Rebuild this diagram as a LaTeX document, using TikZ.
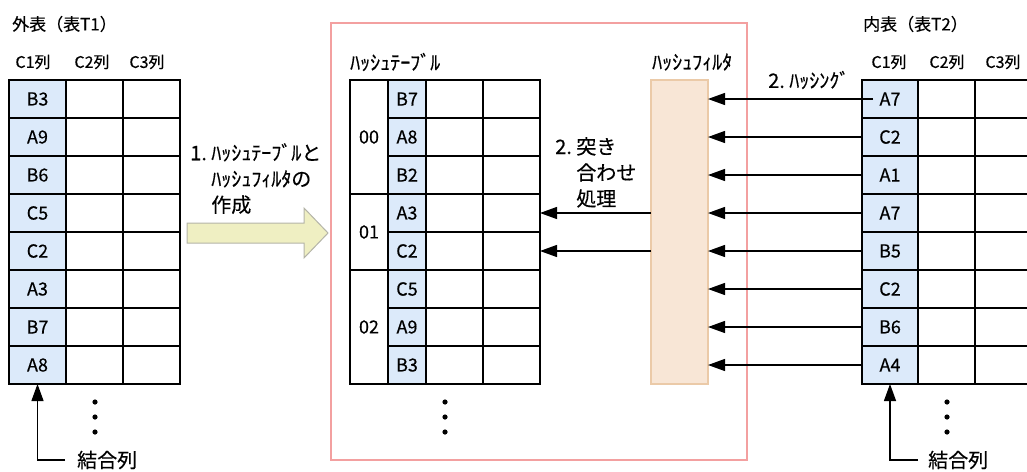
\documentclass[tikz,border=0pt]{standalone}
\usepackage{fontspec}
\setmainfont{Noto Sans CJK JP}[FakeBold=0.4]
\usetikzlibrary{arrows.meta, positioning}
\definecolor{keyblue}{HTML}{DCEAFA}
\definecolor{filterfill}{HTML}{F8E6D6}
\definecolor{filterdraw}{HTML}{EBCAA8}
\definecolor{framered}{HTML}{F3A0A0}
\definecolor{arrowfill}{HTML}{EFEFC2}
\definecolor{arrowdraw}{HTML}{B4B4A8}
\def\bigtext{\fontsize{20}{26}\selectfont}
\def\celltext{\fontsize{18}{22}\selectfont}
\def\titletext{\fontsize{17}{22}\selectfont}
\def\headtext{\fontsize{16}{18}\selectfont}
\def\blockarrow{(187,223) -- (304,223) -- (304,208) -- (328,233) -- (304,258) -- (304,243) -- (187,243) -- cycle}
\def\threedots#1{\fill (#1,402) circle (2.6) (#1,417) circle (2.6) (#1,432) circle (2.6);}
\tikzset{
    cell/.style = {draw, line width=1.5pt, outer sep=0pt, inner sep=0pt, minimum height=38pt, font=\celltext},
    keycell/.style = {cell, fill=keyblue},
    lbl/.style = {inner sep=0pt},
    flow/.style = {line width=1.3pt, -{Triangle[length=17pt, width=12pt]}},
}

\begin{document}
\begin{tikzpicture}[x=1pt, y=-1pt]
    \useasboundingbox (0,0) rectangle (1027,471);
    % Cornice della tabella hash
    \draw[framered, line width=1.3pt] (331,23) rectangle (747,460);
    % Tabella esterna (T1)
    \node[lbl, anchor=west, font=\titletext] (t1) at (12,24) {外表（表T1）};
    \node[lbl, font=\headtext] (t1c1) at (33,62) {C1列};
    \node[lbl, font=\headtext] (t1c2) at (92,62) {C2列};
    \node[lbl, font=\headtext] (t1c3) at (147,62) {C3列};
    \foreach \k/\v in {1/B3,2/A9,3/B6,4/C5,5/C2,6/A3,7/B7,8/A8}{
        \node[keycell, minimum width=57pt] (o\k) at (37.5,{61+38*\k}) {\v};
        \node[cell, minimum width=57pt, right=0pt of o\k] (o\k-b) {};
        \node[cell, minimum width=57pt, right=0pt of o\k-b] (o\k-c) {};
    }
    \threedots{95}
    \node[lbl, anchor=west, font=\bigtext] (j1) at (77,460) {結合列};
    \draw[flow] ([xshift=-12pt]j1.west) -| (o8.south);
    % Creazione
    \node[lbl, anchor=north west, align=left, font=\bigtext] (make) at (190,143)
        {1.~ﾊｯｼｭﾃｰﾌﾞﾙと\\\hphantom{1.~}ﾊｯｼｭﾌｨﾙﾀの\\\hphantom{1.~}作成};
    \filldraw[fill=arrowfill, draw=arrowdraw, line width=1pt] \blockarrow;
    % Tabella hash
    \node[lbl, anchor=west, font=\bigtext] (ht) at (350,62) {ﾊｯｼｭﾃｰﾌﾞﾙ};
    \foreach \k/\v in {1/B7,2/A8,3/B2,4/A3,5/C2,6/C5,7/A9,8/B3}{
        \node[keycell, minimum width=38pt] (h\k) at (407,{61+38*\k}) {\v};
        \node[cell, minimum width=57pt, right=0pt of h\k] (h\k-b) {};
        \node[cell, minimum width=57pt, right=0pt of h\k-b] (h\k-c) {};
    }
    \node[cell, minimum width=38pt, minimum height=114pt] (g0) at (369,137) {00};
    \node[cell, minimum width=38pt, minimum height=76pt] (g1) at (369,232) {01};
    \node[cell, minimum width=38pt, minimum height=114pt] (g2) at (369,327) {02};
    \threedots{445}
    % Filtro hash
    \node[lbl, anchor=west, font=\bigtext] (ft) at (652,62) {ﾊｯｼｭﾌｨﾙﾀ};
    \node[draw=filterdraw, fill=filterfill, line width=1.3pt, outer sep=0pt,
        minimum width=57pt, minimum height=304pt] (filter) at (679.5,232) {};
    % Confronto
    \node[lbl, anchor=north west, align=left, font=\bigtext] (match) at (555,137)
        {2.~突き\\\hphantom{2.~}合わせ\\\hphantom{2.~}処理};
    \draw[flow] (filter.west |- h4.center) -- (h4-c.east);
    \draw[flow] (filter.west |- h5.center) -- (h5-c.east);
    % Tabella interna (T2)
    \node[lbl, anchor=west, font=\titletext] (t2) at (863,24) {内表（表T2）};
    \node[lbl, font=\headtext] (t2c1) at (889,62) {C1列};
    \node[lbl, font=\headtext] (t2c2) at (947,62) {C2列};
    \node[lbl, font=\headtext] (t2c3) at (1003,62) {C3列};
    \foreach \k/\v in {1/A7,2/C2,3/A1,4/A7,5/B5,6/C2,7/B6,8/A4}{
        \node[keycell, minimum width=56pt] (i\k) at (890,{61+38*\k}) {\v};
        \node[cell, minimum width=57pt, right=0pt of i\k] (i\k-b) {};
        \node[cell, minimum width=57pt, right=0pt of i\k-b] (i\k-c) {};
    }
    \threedots{947}
    \node[lbl, anchor=west, font=\bigtext] (j2) at (928,460) {結合列};
    \draw[flow] ([xshift=-10pt]j2.west) -| (i8.south);
    % Hashing
    \node[lbl, anchor=west, font=\bigtext] (hs) at (768,80) {2.~ﾊｯｼﾝｸﾞ};
    \draw[flow] ([xshift=11pt]i1.west) -- (filter.east |- i1.west);
    \foreach \k in {2,...,8}{
        \draw[flow] (i\k.west) -- (filter.east |- i\k.west);
    }
    % Ripristino bordo della prima riga
    \node[keycell, fill=none, minimum width=56pt] (i1-edge) at (i1) {};
\end{tikzpicture}
\end{document}
